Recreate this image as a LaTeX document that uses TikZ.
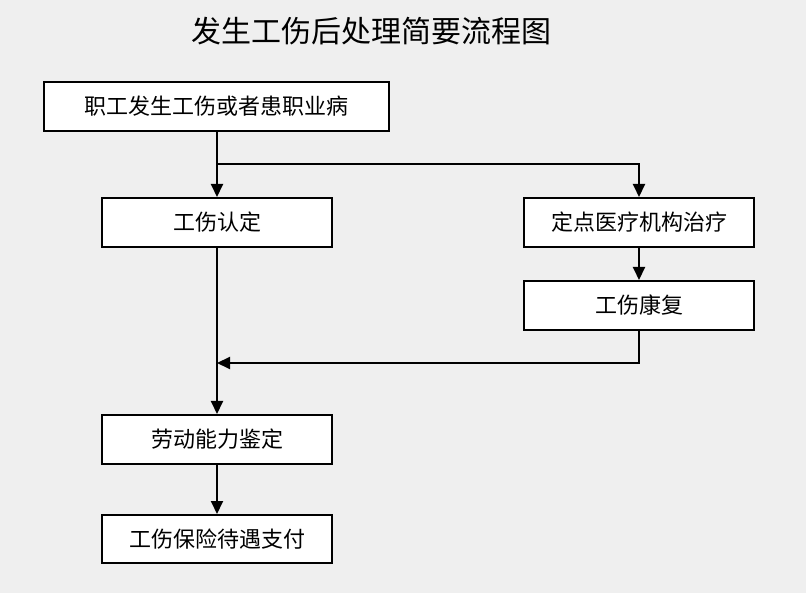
\documentclass[tikz,border=0pt]{standalone}
\usepackage{fontspec}
\setmainfont{Noto Sans CJK SC}
\newfontfamily\cjk{Noto Sans CJK SC}
\usetikzlibrary{arrows.meta}
\definecolor{bggray}{HTML}{EFEFEF}
\begin{document}
\begin{tikzpicture}[x=1pt,y=-1pt,
  box/.style={draw=black,line width=2pt,fill=white,inner sep=0pt,font=\fontsize{22}{24}\selectfont\cjk},
  conn/.style={draw=black,line width=2pt},
  arr/.style={conn,-{Triangle[length=13pt,width=12pt]}}]
\fill[bggray] (0,0) rectangle (806,593);
\useasboundingbox (0,0) rectangle (806,593);
\node[font=\fontsize{30}{32}\selectfont\cjk] (title) at (371.5,31) {发生工伤后处理简要流程图};
\node[box,minimum width=345pt,minimum height=49pt] (b1) at (216.5,106.5) {职工发生工伤或者患职业病};
\node[box,minimum width=230pt,minimum height=49pt] (b2) at (217,222.5) {工伤认定};
\node[box,minimum width=230pt,minimum height=49pt] (b3) at (639,222.5) {定点医疗机构治疗};
\node[box,minimum width=230pt,minimum height=49pt] (b4) at (639,305.5) {工伤康复};
\node[box,minimum width=230pt,minimum height=49pt] (b5) at (217,439.5) {劳动能力鉴定};
\node[box,minimum width=230pt,minimum height=48pt] (b6) at (217,539) {工伤保险待遇支付};
\coordinate (split) at (217,164);
\coordinate (join) at (217,363);
\draw[arr] (b1.south -| b2) -- (b2.north);
\draw[arr] (split) -| (b3.north);
\draw[arr] (b3.south) -- (b4.north);
\draw[arr] (b4.south) |- (join);
\draw[arr] (b2.south) -- (b5.north);
\draw[arr] (b5.south) -- (b6.north);
\end{tikzpicture}
\end{document}
